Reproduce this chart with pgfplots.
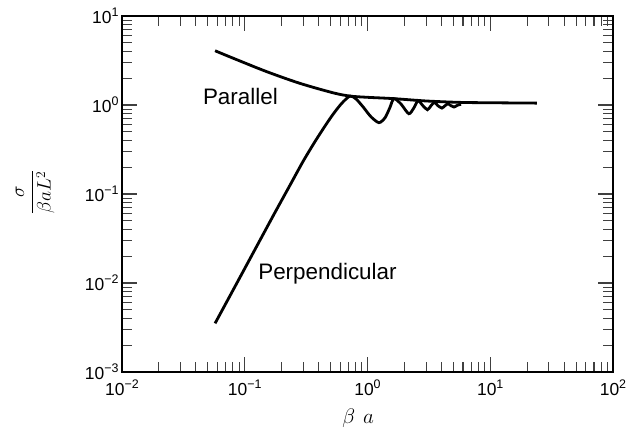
\documentclass[border=0pt]{standalone}
\usepackage{graphicx}
\usepackage{pgfplots}
\pgfplotsset{compat=1.18}
\usepackage{fontspec}
\setmainfont{Liberation Sans}
\newcommand\ex[1]{\raisebox{0.42em}{\fontsize{12.5}{13}\selectfont #1}}
\begin{document}
\begin{tikzpicture}
\begin{axis}[
  scale only axis,
  width=491bp, height=356bp,
  xmode=log, ymode=log,
  xmin=0.01, xmax=100, ymin=0.001, ymax=10,
  xtick={0.01,0.1,1,10,100},
  xticklabels={10\ex{−2},10\ex{−1},10\ex{0},10\ex{1},10\ex{2}},
  ytick={0.001,0.01,0.1,1,10},
  yticklabels={10\ex{−3},10\ex{−2},10\ex{−1},10\ex{0},10\ex{1}},
  minor xtick={0.02,0.03,0.04,0.05,0.06,0.07,0.08,0.09,
               0.2,0.3,0.4,0.5,0.6,0.7,0.8,0.9,
               2,3,4,5,6,7,8,9,20,30,40,50,60,70,80,90},
  minor ytick={0.002,0.003,0.004,0.005,0.006,0.007,0.008,0.009,
               0.02,0.03,0.04,0.05,0.06,0.07,0.08,0.09,
               0.2,0.3,0.4,0.5,0.6,0.7,0.8,0.9,
               2,3,4,5,6,7,8,9},
  major tick length=15bp, minor tick length=10bp,
  tick style={line width=1.1bp, black!75},
  axis line style={line width=1.8bp},
  tick label style={font=\fontsize{17.5}{19}\selectfont},
  xticklabel style={yshift=-4bp},
  xlabel={\scalebox{1.22}{$\beta\mkern7mu a$}},
  ylabel={\scalebox{1.13}{$\displaystyle\frac{\sigma}{\beta a L^2}$}},
  label style={font=\fontsize{17.28}{19}\selectfont},
  xlabel style={at={(axis description cs:0.481,-0.129)}, anchor=center},
  ylabel style={at={(axis description cs:-0.177,0.505)}, anchor=center},
]
% parallel
\addplot[line width=2.8bp, smooth] coordinates {
  (0.0573,4.07)(0.0807,3.35)(0.151,2.37)(0.282,1.75)(0.526,1.37)
  (0.72,1.26)(1.0,1.22)(1.62,1.18)(3.0,1.11)(5.67,1.07)(10,1.06)(24.0,1.05)
};
% perpendicular
\addplot[line width=2.8bp, smooth, tension=0.45] coordinates {
  (0.0573,0.00352)(0.0759,0.00720)(0.1005,0.01475)(0.133,0.0302)
  (0.176,0.0617)(0.234,0.126)(0.300,0.235)(0.373,0.387)
  (0.451,0.581)(0.526,0.792)(0.617,1.045)(0.72,1.26)
  (0.806,1.17)(0.919,0.955)(1.067,0.738)(1.24,0.633)(1.39,0.720)
  (1.52,0.931)(1.64,1.18)(1.87,1.03)(2.17,0.798)(2.39,0.931)
  (2.58,1.12)(2.83,0.981)(3.08,0.885)(3.29,0.981)(3.51,1.07)
  (3.75,0.981)(4.04,0.924)(4.28,0.981)(4.53,1.033)(4.79,0.981)
  (5.07,0.949)(5.41,0.994)(5.78,1.02)
};
\node[font=\fontsize{22.5}{24}\selectfont] at (axis cs:0.0922,1.246) {Parallel};
\node[font=\fontsize{22.5}{24}\selectfont] at (axis cs:0.472,0.0126) {Perpendicular};
\end{axis}
\pgfresetboundingbox
\path (current axis.south west) ++(-122bp,-73bp) coordinate (bl);
\path (current axis.north east) ++(26bp,16bp) coordinate (tr);
\useasboundingbox (bl) rectangle (tr);
\end{tikzpicture}
\end{document}
